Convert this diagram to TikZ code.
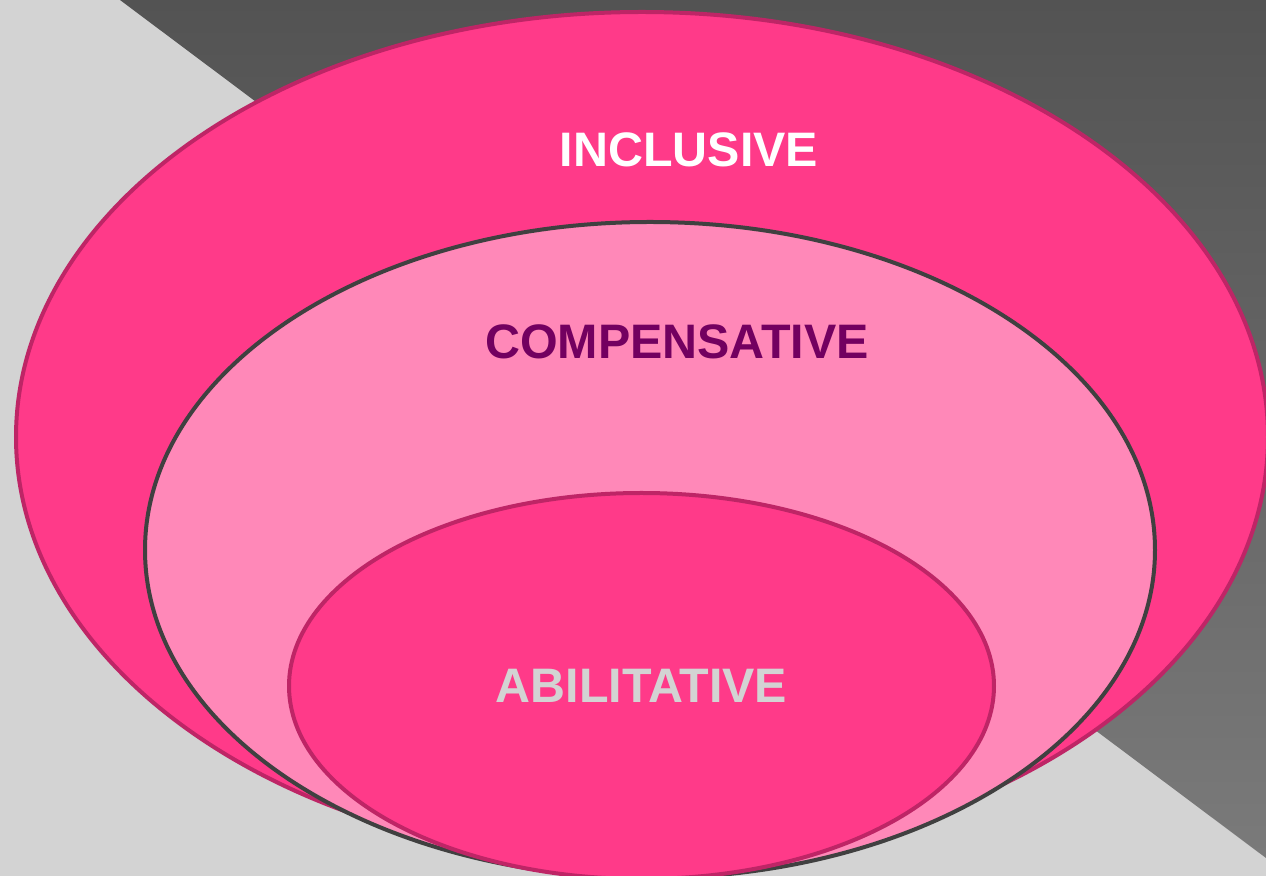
\documentclass[tikz,border=0pt]{standalone}
\usepackage{fontspec}
\setmainfont{Liberation Sans}
\definecolor{bglight}{HTML}{D3D3D3}
\definecolor{bgdarktop}{HTML}{535353}
\definecolor{bgdarkbot}{HTML}{7A7A7A}
\definecolor{hotpink}{HTML}{FF3A89}
\definecolor{pinkedge}{HTML}{BE2566}
\definecolor{lightpink}{HTML}{FF88B8}
\definecolor{greyedge}{HTML}{404040}
\definecolor{plum}{HTML}{730060}
\tikzset{
  ring/.style={line width=2pt},
  label/.style={inner sep=0pt, font=\fontsize{24.2pt}{29pt}\selectfont\bfseries}
}
\begin{document}
\begin{tikzpicture}[x=0.5pt,y=-0.5pt]
\useasboundingbox (0,0) rectangle (1266,876);
\clip (0,0) rectangle (1266,876);
\fill[bglight] (0,0) rectangle (1266,876);
\shade[top color=bgdarktop, bottom color=bgdarkbot] (120,0) -- (1266,0) -- (1266,858) -- cycle;
% outer ellipse
\draw[ring, fill=hotpink, draw=pinkedge] (642,437) ellipse [x radius=626, y radius=425];
% middle ellipse
\draw[ring, fill=lightpink, draw=greyedge] (650,550) ellipse [x radius=505, y radius=328];
% inner ellipse
\draw[ring, fill=hotpink, draw=pinkedge] (641.5,686) ellipse [x radius=352.5, y radius=193];
\node[label, text=white] (inclusive) at (689,150) {INCLUSIVE};
\node[label, text=plum] (compensative) at (677,342) {COMPENSATIVE};
\node[label, text=bglight] (abilitative) at (641.5,686) {ABILITATIVE};
\end{tikzpicture}
\end{document}
